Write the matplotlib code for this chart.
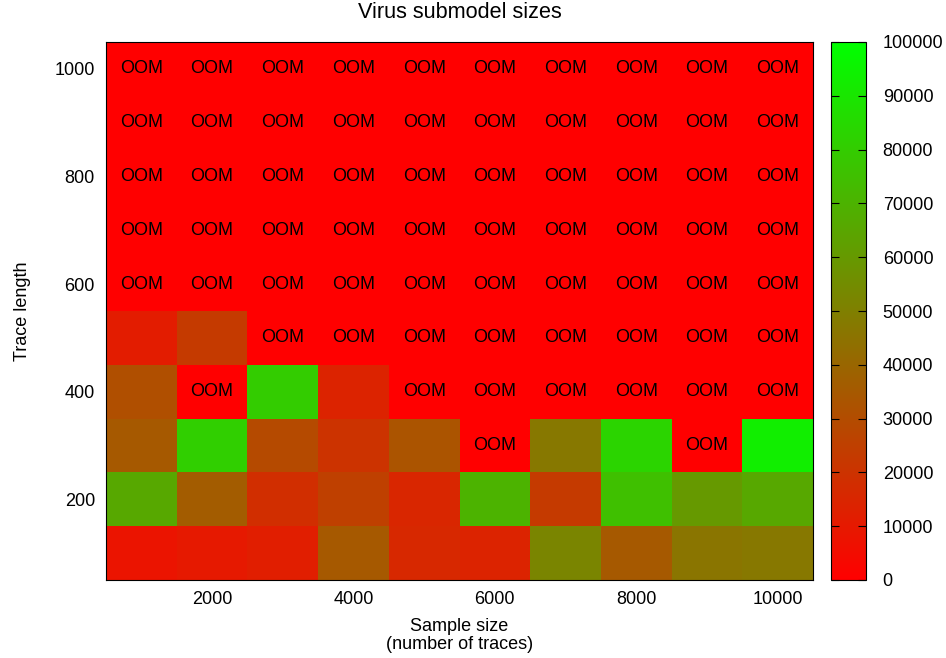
import numpy as np
import matplotlib.pyplot as plt
from matplotlib.colors import LinearSegmentedColormap

plt.rcParams['font.family'] = ['Liberation Sans', 'DejaVu Sans']
plt.rcParams['font.size'] = 13

# sample sizes (x) and trace lengths (y)
sample_sizes = [1000, 2000, 3000, 4000, 5000, 6000, 7000, 8000, 9000, 10000]
trace_lengths = [100, 200, 300, 400, 500, 600, 700, 800, 900, 1000]

# submodel sizes per trace length, None = out of memory
sizes_100 = [8000, 10000, 12000, 35000, 16000, 14000, 52000, 35000, 46000, 47000]
sizes_200 = [66000, 36000, 18000, 25000, 15000, 70000, 23000, 75000, 60000, 66000]
sizes_300 = [35000, 81000, 29000, 20000, 33000, None, 47000, 83000, None, 93000]
sizes_400 = [31000, None, 80000, 14000, None, None, None, None, None, None]
sizes_500 = [11000, 23000, None, None, None, None, None, None, None, None]
sizes_600 = [None] * 10
sizes_700 = [None] * 10
sizes_800 = [None] * 10
sizes_900 = [None] * 10
sizes_1000 = [None] * 10

rows = [sizes_100, sizes_200, sizes_300, sizes_400, sizes_500,
        sizes_600, sizes_700, sizes_800, sizes_900, sizes_1000]
grid = np.array([[0 if v is None else v for v in r] for r in rows], dtype=float)

cmap = LinearSegmentedColormap.from_list('rg', [(1, 0, 0), (0, 1, 0)])

fig = plt.figure(figsize=(9.46, 6.58), dpi=100)
ax = fig.add_axes([106 / 946, 1 - 580 / 658, 707 / 946, 538 / 658])
cax = fig.add_axes([831 / 946, 1 - 580 / 658, 35 / 946, 538 / 658])

xe = np.arange(500, 10501, 1000)
ye = np.arange(50, 1051, 100)
mesh = ax.pcolormesh(xe, ye, grid, cmap=cmap, vmin=0, vmax=100000)

for i, r in enumerate(rows):
    for j, v in enumerate(r):
        if v is None:
            ax.text(sample_sizes[j], trace_lengths[i], 'OOM',
                    ha='center', va='center')

ax.set_xlim(500, 10500)
ax.set_ylim(50, 1050)
ax.set_xticks([2000, 4000, 6000, 8000, 10000])
ax.set_yticks([200, 400, 600, 800, 1000])
ax.tick_params(axis='x', length=0, pad=8)
ax.tick_params(axis='y', length=0, pad=8)
ax.set_xlabel('Sample size\n(number of traces)', labelpad=7, linespacing=1.1)
ax.set_ylabel('Trace length', labelpad=17)
ax.set_title('Virus submodel sizes', pad=17)

cb = fig.colorbar(mesh, cax=cax)
cb.set_ticks(np.arange(0, 100001, 10000))
cax.yaxis.set_ticks_position('both')
cax.tick_params(direction='in', length=5.5, pad=12, labelleft=False, labelright=True)

fig.savefig('out.png', dpi=100)
